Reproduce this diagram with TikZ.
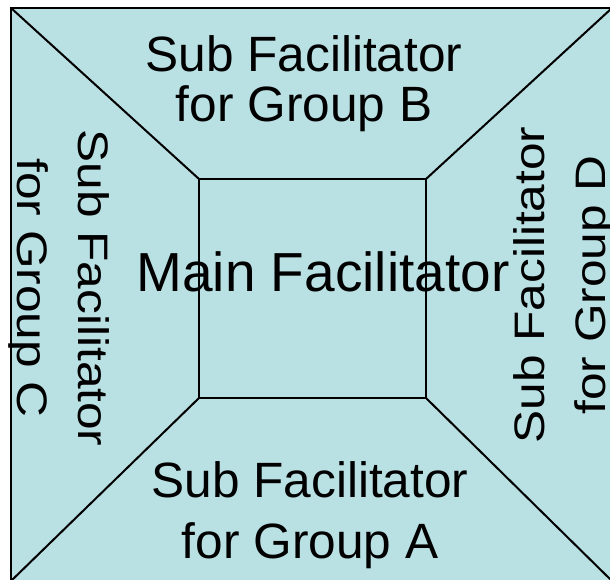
\documentclass[tikz,border=0pt]{standalone}
\usepackage{fontspec}
\setmainfont{Liberation Sans}
\newfontfamily\sidefont[FakeStretch=1.163]{Liberation Sans}
\usepackage{tikz}
\definecolor{colorPanel}{HTML}{B9E0E3}

\tikzset{
    subtext/.style={font=\fontsize{37.2}{37.5}\selectfont, align=center, anchor=base},
    sidetext/.style={font=\sidefont\fontsize{32}{45.75}\selectfont, align=center, anchor=base},
}

\begin{document}
\begin{tikzpicture}[x=0.75pt, y=-0.75pt]
    \useasboundingbox (0,0) rectangle (610,579);
    \clip (0,0) rectangle (610,579);
    % outer frame and middle square corners
    \coordinate (o1) at (11,8);
    \coordinate (o2) at (612,8);
    \coordinate (o3) at (612,581);
    \coordinate (o4) at (11,581);
    \coordinate (i1) at (199,179);
    \coordinate (i2) at (426,179);
    \coordinate (i3) at (426,398);
    \coordinate (i4) at (199,398);
    \filldraw[fill=colorPanel, line width=2.2pt] (o1) rectangle (o3);
    \draw[line width=1.5pt] (o1) -- (i1) (o2) -- (i2) (o3) -- (i3) (o4) -- (i4);
    \draw[line width=1.6pt] (i1) rectangle (i3);
    % labels (anchored on their last line)
    \node[subtext] (groupB) at (304,121) {Sub Facilitator\\for Group B};
    \node[subtext, font=\fontsize{37.2}{45.75}\selectfont] (groupA) at (310,558) {Sub Facilitator\\for Group A};
    \node[sidetext, rotate=-90] (groupC) at (17,288) {Sub Facilitator\\for Group C};
    \node[sidetext, rotate=90] (groupD) at (605,285) {Sub Facilitator\\for Group D};
    \node[font=\fontsize{41.25}{45}\selectfont, anchor=base] (main) at (323,291) {Main Facilitator};
\end{tikzpicture}
\end{document}
